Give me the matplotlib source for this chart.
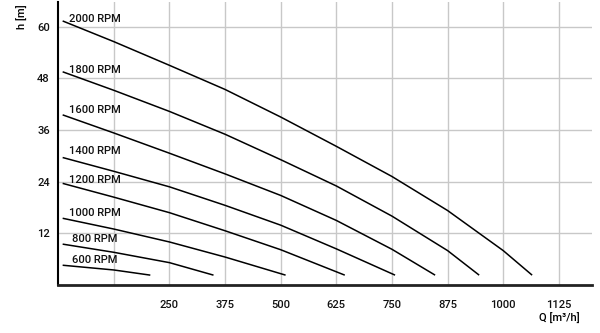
import matplotlib.pyplot as plt

plt.rcParams['font.family'] = ['Roboto', 'DejaVu Sans']

# Pump curves: flow Q [m3/h] vs head h [m]
rpm_labels = ["2000 RPM", "1800 RPM", "1600 RPM", "1400 RPM",
              "1200 RPM", "1000 RPM", "800 RPM", "600 RPM"]

q_2000 = [10, 125, 250, 375, 500, 625, 750, 875, 1000, 1065]
h_2000 = [61.3, 56.5, 51.0, 45.4, 39.0, 32.2, 25.2, 17.3, 8.0, 2.3]
q_1800 = [10, 125, 250, 375, 500, 625, 750, 875, 946]
h_1800 = [49.5, 45.2, 40.3, 35.0, 29.1, 23.0, 16.0, 8.0, 2.3]
q_1600 = [10, 125, 250, 375, 500, 625, 750, 847]
h_1600 = [39.5, 35.3, 30.6, 25.8, 20.8, 15.0, 8.3, 2.3]
q_1400 = [10, 125, 250, 375, 500, 625, 757]
h_1400 = [29.6, 26.4, 22.8, 18.5, 13.9, 8.4, 2.3]
q_1200 = [10, 125, 250, 375, 500, 644]
h_1200 = [23.6, 20.4, 16.8, 12.6, 8.2, 2.3]
q_1000 = [10, 125, 250, 375, 511]
h_1000 = [15.5, 13.0, 10.0, 6.5, 2.3]
q_800 = [10, 125, 250, 349]
h_800 = [9.5, 7.6, 5.2, 2.3]
q_600 = [10, 125, 207]
h_600 = [4.6, 3.5, 2.3]

# label anchor (Q, h) next to each curve start
label_q = [25, 25, 25, 25, 25, 25, 32, 32]
label_h = [61.7, 49.9, 40.6, 31.1, 24.4, 16.8, 10.8, 5.8]

x_ticks = [125, 250, 375, 500, 625, 750, 875, 1000, 1125]
x_tick_labels = ["", "250", "375", "500", "625", "750", "875", "1000", "1125"]
y_ticks = [12, 24, 36, 48, 60]

curves = [(q_2000, h_2000), (q_1800, h_1800), (q_1600, h_1600), (q_1400, h_1400),
          (q_1200, h_1200), (q_1000, h_1000), (q_800, h_800), (q_600, h_600)]

fig = plt.figure(figsize=(6, 3.33), dpi=100)
ax = fig.add_axes([0.097, 0.144, 0.89, 0.85])

for (q, h), lab, lq, lh in zip(curves, rpm_labels, label_q, label_h):
    ax.plot(q, h, color='black', linewidth=1.1, solid_capstyle='butt',
            solid_joinstyle='round')
    ax.text(lq, lh, lab, fontsize=8, fontweight='medium', ha='left',
            va='center', color='#111111')

ax.set_xlim(0, 1200)
ax.set_ylim(0, 65.7)
ax.set_xticks(x_ticks)
ax.set_xticklabels(x_tick_labels, fontweight='medium')
ax.set_yticks(y_ticks)
ax.set_yticklabels([str(v) for v in y_ticks], fontweight='medium')
ax.tick_params(axis='both', length=0, labelsize=8, colors='#111111')
ax.tick_params(axis='x', pad=11)
ax.tick_params(axis='y', pad=6)
ax.grid(True, color='#c8c8c8', linewidth=1)
ax.set_axisbelow(True)

for side in ['top', 'right']:
    ax.spines[side].set_visible(False)
ax.spines['left'].set_linewidth(1.5)
ax.spines['bottom'].set_linewidth(2)
ax.spines['bottom'].set_color('#222222')

fig.text(0.037, 0.95, "h [m]", rotation=90, fontsize=8, fontweight='medium',
         ha='center', va='center')
fig.text(0.966, 0.043, "Q [m³/h]", fontsize=8, fontweight='medium',
         ha='right', va='center')

fig.savefig("out.png", dpi=100)
